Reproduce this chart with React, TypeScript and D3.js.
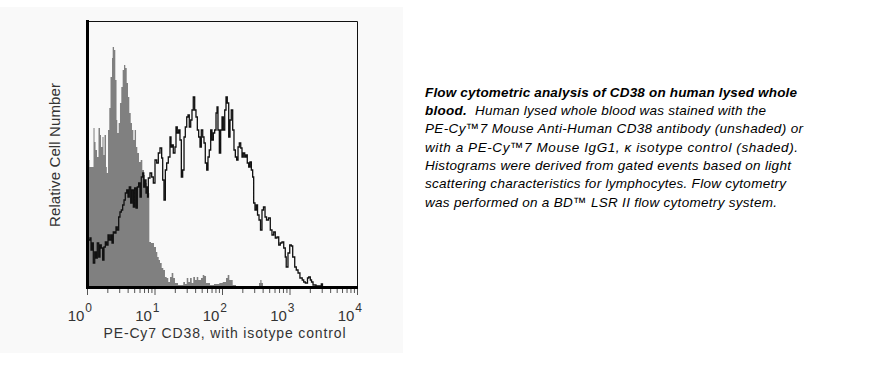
import React from "react";
import * as d3 from "d3";

// Isotype control (shaded) – log10 fluorescence and relative count
const isoLog = [0, 0.03, 0.067, 0.089, 0.104, 0.119, 0.141, 0.163, 0.185, 0.2, 0.222, 0.237, 0.252, 0.274, 0.286, 0.304, 0.323, 0.341, 0.363, 0.373, 0.393, 0.412, 0.43, 0.441, 0.462, 0.481, 0.501, 0.521, 0.541, 0.56, 0.581, 0.6, 0.619, 0.64, 0.659, 0.679, 0.699, 0.719, 0.738, 0.763, 0.788, 0.812, 0.837, 0.852, 0.877, 0.901, 0.916, 0.941, 0.985, 1.015, 1.034, 1.055, 1.074, 1.099, 1.123, 1.148, 1.173, 1.197, 1.222, 1.247, 1.271, 1.296, 1.341, 1.385, 1.419, 1.444, 1.47, 1.493, 1.519, 1.544, 1.567, 1.593, 1.618, 1.641, 1.681, 1.707, 1.73, 1.756, 1.815, 1.874, 1.953, 2.003, 2.052, 2.077, 2.101, 2.151, 2.2, 2.511, 2.541, 2.56, 2.578, 2.6];
const isoCount = [127, 120, 120, 159, 145, 137, 130, 159, 152, 140, 150, 132, 152, 120, 114, 157, 179, 210, 229, 240, 237, 207, 167, 154, 164, 184, 200, 217, 222, 219, 204, 190, 174, 164, 157, 147, 157, 140, 134, 125, 127, 117, 112, 104, 97, 94, 45, 44, 40, 35, 30, 27, 24, 19, 17, 10, 9, 5, 10, 14, 9, 4, 2, 2, 5, 3, 9, 5, 9, 4, 10, 7, 10, 7, 9, 12, 11, 4, 2, 3, 4, 5, 9, 12, 7, 2, 0, 0, 4, 7, 4, 0];

// PE-Cy7 CD38 (unshaded)
const cd38Log = [0.022, 0.037, 0.052, 0.071, 0.086, 0.107, 0.126, 0.145, 0.166, 0.185, 0.204, 0.225, 0.244, 0.264, 0.284, 0.304, 0.323, 0.344, 0.363, 0.382, 0.403, 0.422, 0.441, 0.462, 0.481, 0.501, 0.521, 0.541, 0.56, 0.581, 0.6, 0.619, 0.64, 0.659, 0.679, 0.699, 0.719, 0.738, 0.758, 0.778, 0.797, 0.818, 0.833, 0.852, 0.867, 0.877, 0.889, 0.901, 0.926, 0.951, 0.975, 1.0, 1.025, 1.049, 1.074, 1.099, 1.114, 1.133, 1.153, 1.173, 1.197, 1.222, 1.237, 1.252, 1.271, 1.296, 1.311, 1.33, 1.351, 1.37, 1.39, 1.41, 1.43, 1.449, 1.47, 1.489, 1.508, 1.529, 1.548, 1.567, 1.588, 1.607, 1.627, 1.647, 1.667, 1.686, 1.707, 1.726, 1.745, 1.766, 1.785, 1.804, 1.825, 1.844, 1.864, 1.884, 1.904, 1.919, 1.933, 1.953, 1.973, 1.993, 2.012, 2.033, 2.052, 2.071, 2.092, 2.111, 2.13, 2.151, 2.17, 2.19, 2.21, 2.23, 2.249, 2.27, 2.289, 2.308, 2.329, 2.348, 2.367, 2.388, 2.407, 2.427, 2.447, 2.462, 2.481, 2.501, 2.519, 2.541, 2.563, 2.585, 2.607, 2.63, 2.652, 2.681, 2.708, 2.733, 2.759, 2.782, 2.807, 2.833, 2.856, 2.881, 2.907, 2.93, 2.944, 2.97, 2.996, 3.019, 3.04, 3.07, 3.093, 3.119, 3.147, 3.181, 3.203, 3.227, 3.259, 3.277, 3.301, 3.319, 3.341, 3.385, 3.444, 3.464, 3.481];
const cd38Count = [47, 49, 37, 44, 24, 35, 29, 44, 30, 42, 39, 27, 40, 45, 42, 52, 47, 52, 44, 55, 54, 60, 57, 70, 75, 77, 82, 87, 94, 97, 90, 100, 84, 97, 80, 99, 79, 100, 104, 90, 110, 114, 100, 107, 94, 100, 90, 109, 114, 110, 104, 127, 124, 134, 139, 129, 107, 87, 117, 124, 130, 150, 140, 142, 134, 140, 160, 154, 157, 147, 110, 117, 150, 160, 170, 172, 160, 167, 177, 190, 177, 170, 157, 150, 140, 157, 150, 144, 124, 117, 130, 137, 157, 147, 154, 157, 174, 180, 157, 134, 157, 170, 157, 177, 190, 184, 150, 167, 177, 157, 137, 130, 127, 140, 144, 139, 130, 134, 130, 132, 124, 120, 125, 117, 110, 84, 77, 82, 72, 67, 57, 77, 80, 70, 67, 69, 57, 52, 55, 49, 50, 42, 44, 45, 39, 30, 20, 34, 42, 41, 30, 20, 17, 14, 9, 7, 5, 4, 9, 10, 7, 5, 2, 1, 1, 3, 0];

const decades = [0, 1, 2, 3, 4];
const minorMultipliers = [2, 3, 4, 5, 6, 7, 8, 9];
const xTitle = "PE-Cy7 CD38, with isotype control";
const yTitle = "Relative Cell Number";

const captionLines: { text: string; bold?: boolean }[][] = [
  [{ text: "Flow cytometric analysis of CD38 on human lysed whole", bold: true }],
  [{ text: "blood.", bold: true }, { text: "  Human lysed whole blood was stained with the" }],
  [{ text: "PE-Cy™7 Mouse Anti-Human CD38 antibody (unshaded) or" }],
  [{ text: "with a PE-Cy™7 Mouse IgG1, κ isotype control (shaded)." }],
  [{ text: "Histograms were derived from gated events based on light" }],
  [{ text: "scattering characteristics for lymphocytes. Flow cytometry" }],
  [{ text: "was performed on a BD™ LSR II flow cytometry system." }],
];
const captionWidths = [372, 341, 378, 373, 366, 361, 352];

const FONT = "'Liberation Sans', Arial, Helvetica, sans-serif";

export default function App() {
  const x = d3.scaleLog().domain([1, 1e4]).range([87.5, 357.5]);
  const y = d3.scaleLinear().domain([0, 266]).range([287, 21]);

  const isoArea = d3
    .area<number>()
    .x((_, i) => x(Math.pow(10, isoLog[i])))
    .y0(y(0))
    .y1((d) => y(d))
    .curve(d3.curveStepAfter)(isoCount) as string;

  const cdLine = d3
    .line<number>()
    .x((_, i) => x(Math.pow(10, cd38Log[i])))
    .y((d) => y(d))
    .curve(d3.curveStepAfter)(cd38Count) as string;

  const minorTicks: number[] = [];
  decades.slice(0, -1).forEach((d) =>
    minorMultipliers.forEach((m) => minorTicks.push(m * Math.pow(10, d)))
  );

  return (
    <svg
      width={888}
      height={366}
      style={{ position: "absolute", left: 0, top: 0, background: "#ffffff" }}
      fontFamily={FONT}
    >
      <rect x={0} y={7} width={403} height={346} fill="#f9f9f9" />
      <path d={isoArea} fill="#808080" />
      <path d={cdLine} fill="none" stroke="#111" strokeWidth={1.3} />
      {/* frame */}
      <line x1={87.5} x2={357.5} y1={21.5} y2={21.5} stroke="#111" strokeWidth={1} />
      <line x1={357.5} x2={357.5} y1={21.5} y2={287.5} stroke="#111" strokeWidth={1} />
      <line x1={87.5} x2={87.5} y1={20} y2={289} stroke="#000" strokeWidth={3} />
      <line x1={86} x2={358} y1={287.5} y2={287.5} stroke="#000" strokeWidth={3} />
      {/* ticks */}
      {minorTicks.map((t, i) => (
        <line key={"m" + i} x1={x(t)} x2={x(t)} y1={289} y2={293} stroke="#555" strokeWidth={1} />
      ))}
      {decades.map((d) => (
        <line key={"M" + d} x1={x(Math.pow(10, d))} x2={x(Math.pow(10, d))} y1={289} y2={295} stroke="#555" strokeWidth={1} />
      ))}
      {decades.map((d) => (
        <text key={"l" + d} x={x(Math.pow(10, d)) + 4.5} y={320.7} textAnchor="end" fontSize={15} fill="#333">
          10
          <tspan dx={1} dy={-8.4} fontSize={12}>
            {d}
          </tspan>
        </text>
      ))}
      <text x={103.5} y={337.5} fontSize={14} fill="#333" textLength={242} lengthAdjust="spacing">
        {xTitle}
      </text>
      <text
        transform="translate(60,155) rotate(-90)"
        textAnchor="middle"
        fontSize={15}
        fill="#333"
        textLength={144}
        lengthAdjust="spacing"
      >
        {yTitle}
      </text>
      {captionLines.map((segs, i) => (
        <text
          key={"c" + i}
          x={425}
          y={96.7 + i * 18.35}
          fontSize={13.5}
          fontStyle="italic"
          fill="#000"
          textLength={captionWidths[i]}
          lengthAdjust="spacing"
        >
          {segs.map((s, j) => (
            <tspan key={j} fontWeight={s.bold ? "bold" : "normal"} xmlSpace="preserve">
              {s.text}
            </tspan>
          ))}
        </text>
      ))}
    </svg>
  );
}
